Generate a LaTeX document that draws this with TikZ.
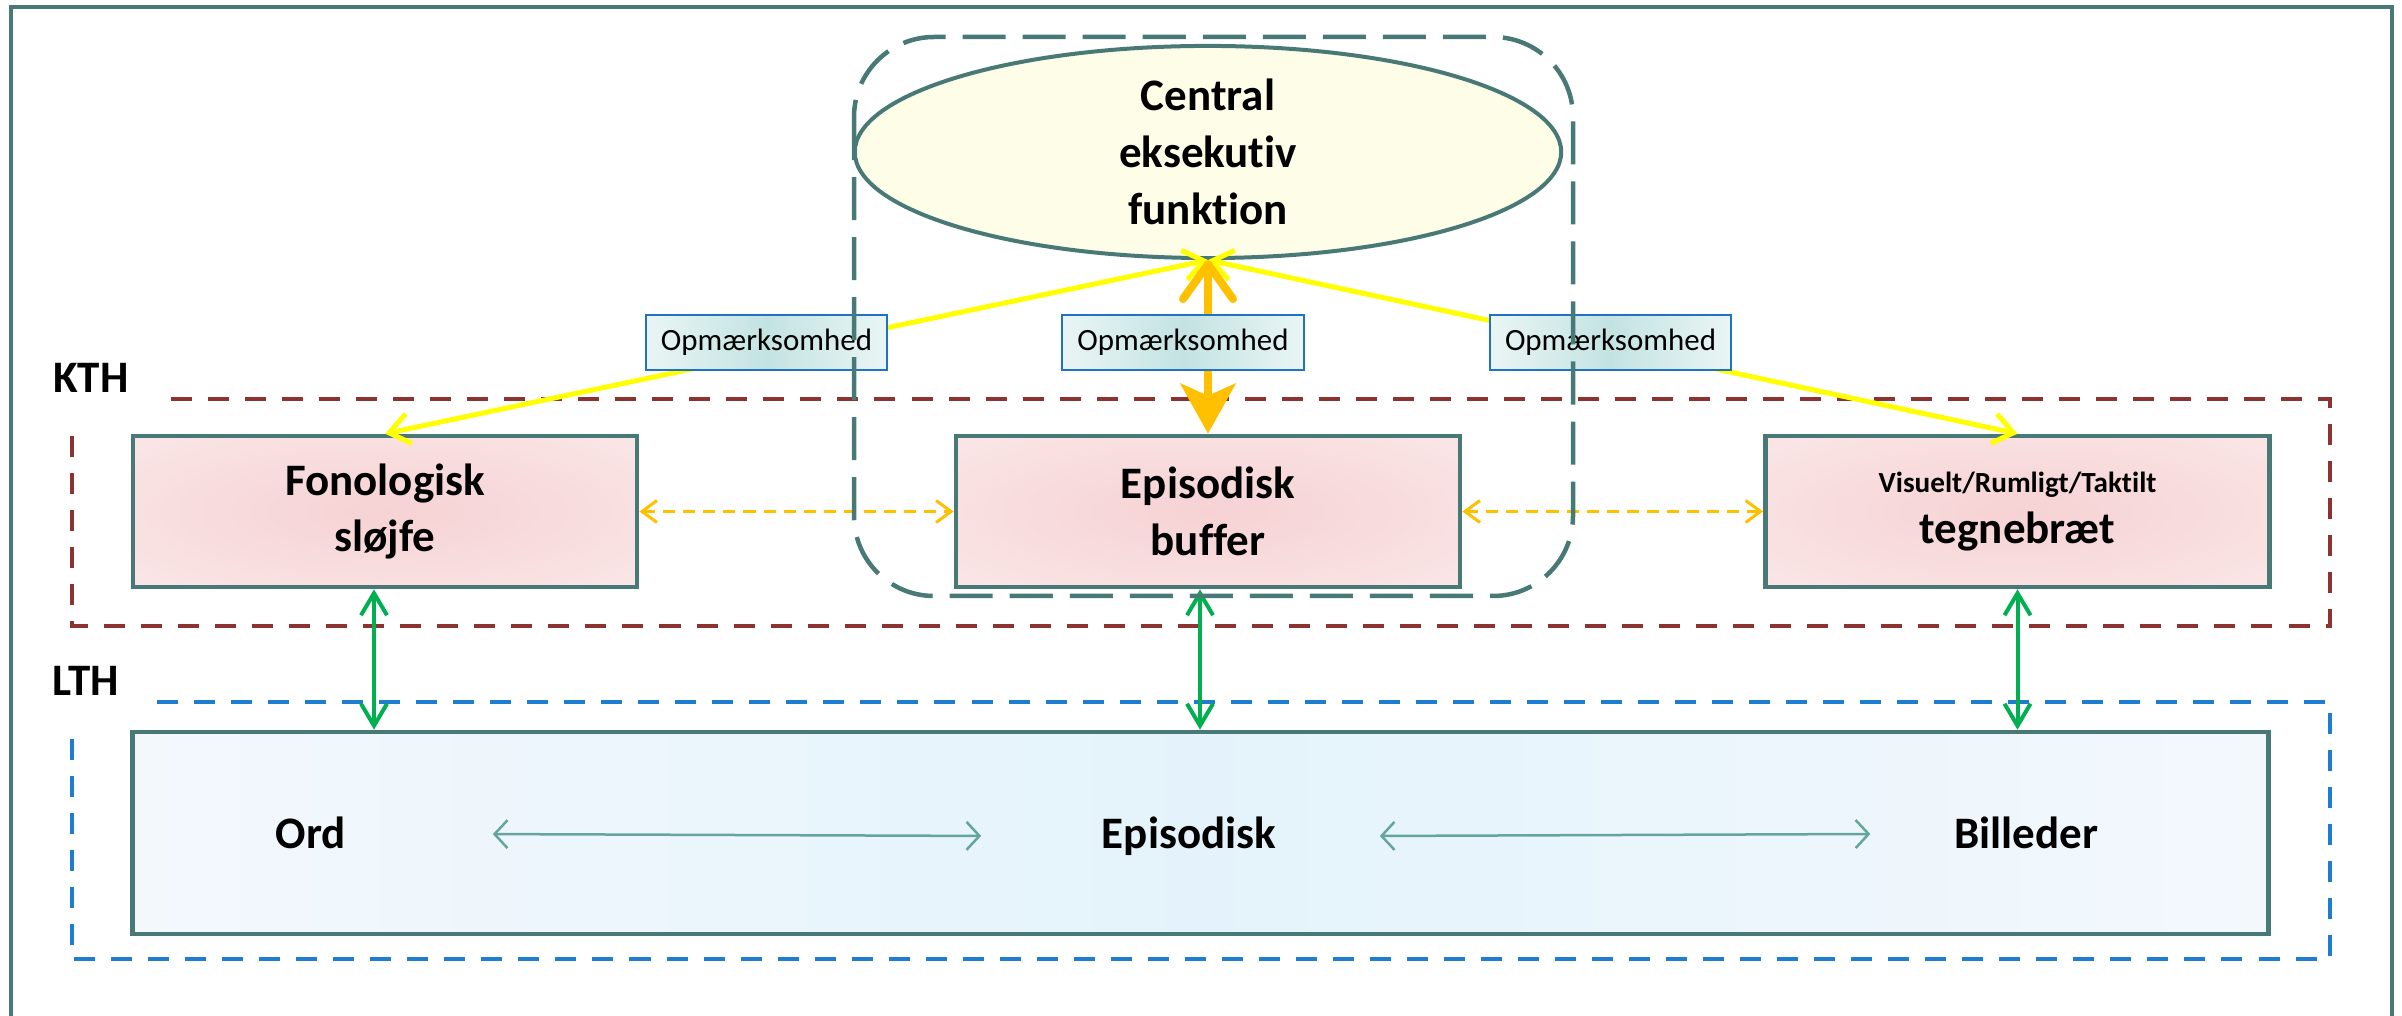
\documentclass[tikz,border=0pt]{standalone}
\usepackage{fontspec}
\setmainfont{Carlito}[Ligatures=CommonOff]
\usetikzlibrary{arrows.meta, shapes.geometric}

\definecolor{tealline}{RGB}{72,121,119}
\definecolor{thinteal}{RGB}{100,165,160}
\definecolor{kthred}{RGB}{140,50,48}
\definecolor{lthblue}{RGB}{31,125,207}
\definecolor{attnyellow}{RGB}{255,255,0}
\definecolor{amber}{RGB}{255,192,0}
\definecolor{linkgreen}{RGB}{0,176,80}
\definecolor{pinkin}{RGB}{246,210,212}
\definecolor{pinkout}{RGB}{252,238,238}
\definecolor{creamfill}{RGB}{254,254,232}
\definecolor{lbledge}{RGB}{234,245,245}
\definecolor{lblmid}{RGB}{195,227,226}
\definecolor{lblline}{RGB}{30,115,195}
\definecolor{blueedge}{RGB}{243,248,253}
\definecolor{bluemid}{RGB}{228,243,251}

\pgfdeclareradialshading{storeshade}{\pgfpoint{0bp}{0bp}}{color(0bp)=(pinkin); color(50bp)=(pinkout); color(75bp)=(pinkout)}

\begin{document}
\begin{tikzpicture}[
    x=0.01cm, y=-0.01cm,
    big/.style={font=\fontsize{12.8}{16.2}\selectfont\bfseries},
    exec/.style={ellipse, big, draw=tealline, line width=0.04cm, fill=creamfill, minimum width=7.06cm, minimum height=2.12cm, inner sep=0pt, align=center},
    store/.style={big, draw=tealline, line width=0.045cm, shading=storeshade, minimum width=5.04cm, minimum height=1.51cm, align=center},
    ltmbox/.style={draw=tealline, line width=0.045cm, left color=blueedge, right color=blueedge, middle color=bluemid, minimum width=21.35cm, minimum height=2.02cm},
    word/.style={big, inner sep=0pt, anchor=base},
    attn/.style={draw=lblline, line width=0.02cm, left color=lbledge, right color=lbledge, middle color=lblmid, minimum width=2.41cm, minimum height=0.55cm, inner sep=0pt, font=\fontsize{8.8}{10.5}\selectfont},
    region/.style={big, fill=white, inner sep=0.3cm},
    ceframe/.style={draw=tealline, line width=0.045cm, dash pattern=on 0.43cm off 0.17cm, rounded corners=0.8cm},
    kthframe/.style={draw=kthred, line width=0.048cm, dash pattern=on 0.21cm off 0.16cm},
    lthframe/.style={draw=lthblue, line width=0.048cm, dash pattern=on 0.21cm off 0.16cm},
    attnline/.style={draw=attnyellow, line width=0.05cm, <->, >={Straight Barb[length=0.2cm,width=0.3cm]}},
    amberline/.style={draw=amber, line width=0.08cm, arrows={Straight Barb[length=0.35cm,width=0.5cm,round]-Stealth[length=0.5cm,width=0.55cm,inset=0.12cm]}},
    loose/.style={draw=amber, line width=0.03cm, dash pattern=on 0.12cm off 0.08cm, <->, >={Straight Barb[length=0.15cm,width=0.22cm]}},
    link/.style={draw=linkgreen, line width=0.04cm, <->, >={Straight Barb[length=0.22cm,width=0.26cm]}},
    assoc/.style={draw=thinteal, line width=0.025cm, <->, >={Straight Barb[length=0.13cm,width=0.28cm]}}
]
\useasboundingbox (0,0) rectangle (2402,1016);
\draw[tealline, line width=0.04cm] (11,1030) -- (11,7) -- (2392,7) -- (2392,1030);

% korttids- og langtidshukommelse
\draw[kthframe] (72,399) rectangle (2330,626);
\draw[lthframe] (72,702) rectangle (2330,959);
\node[region] (kth) at (91,378) {KTH};
\node[region] (lth) at (86,681) {LTH};

\node[exec] (ce) at (1208,152) {Central\\eksekutiv\\funktion};
\node[store] (fon) at (385,511.5) {Fonologisk\\sløjfe};
\node[store] (buf) at (1208,511.5) {Episodisk\\buffer};
\node[store] (teg) at (2017.5,511.5) {{\fontsize{8.3}{10}\selectfont Visuelt/Rumligt/Taktilt}\\[-1.5pt]tegnebræt};
\node[ltmbox] (ltm) at (1200.5,833) {};
\node[word] (ord) at (311,849) {Ord};
\node[word] (epi) at (1189,849) {Episodisk};
\node[word] (bil) at (2026,849) {Billeder};

% opmærksomhed
\draw[attnline] (ce.south) -- (fon.north);
\draw[attnline] (ce.south) -- (teg.north);
\draw[amberline] (ce.south) -- (buf.north);
\node[attn] (op1) at (766.5,342.5) {Opmærksomhed};
\node[attn] (op2) at (1183,342.5) {Opmærksomhed};
\node[attn] (op3) at (1610.5,342.5) {Opmærksomhed};

\draw[loose] (fon) -- (buf);
\draw[loose] (buf) -- (teg);
\draw[link] ([xshift=-0.11cm]fon.south) -- ([xshift=-0.11cm]fon.south |- ltm.north);
\draw[link] ([xshift=-0.08cm]buf.south) -- ([xshift=-0.08cm]buf.south |- ltm.north);
\draw[link] (teg.south) -- (teg.south |- ltm.north);
\draw[assoc, shorten <=1.46cm, shorten >=1.2cm] (ord) -- (epi);
\draw[assoc, shorten <=1.03cm, shorten >=0.83cm] (epi) -- (bil);

\draw[ceframe] (854,37) rectangle (1573,596);
\end{tikzpicture}
\end{document}
